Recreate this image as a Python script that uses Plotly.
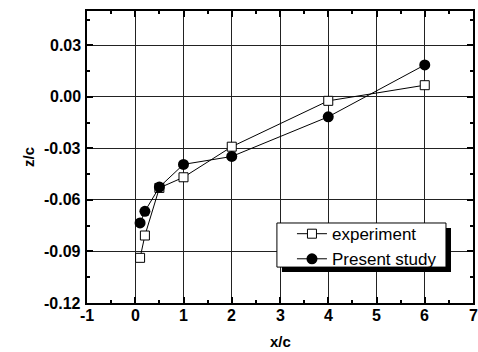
import plotly.graph_objects as go

exp_x = [0.1, 0.2, 0.5, 1, 2, 4, 6]
exp_y = [-0.0937, -0.0807, -0.053, -0.0468, -0.029, -0.0023, 0.0068]
pre_x = [0.1, 0.2, 0.5, 1, 2, 4, 6]
pre_y = [-0.0734, -0.0666, -0.0525, -0.0393, -0.0347, -0.0116, 0.0186]

x_ticks = [-1, 0, 1, 2, 3, 4, 5, 6, 7]
x_labels = ["-1", "0", "1", "2", "3", "4", "5", "6", "7"]
y_ticks = [-0.12, -0.09, -0.06, -0.03, 0.0, 0.03]
y_labels = ["-0.12", "-0.09", "-0.06", "-0.03", "0.00", "0.03"]

FONT = "Liberation Sans, Arial, sans-serif"
TICKFONT = dict(family=FONT, size=16, color="black", weight="bold")
TITLEFONT = dict(family=FONT, size=15, color="black", weight="bold")

fig = go.Figure()
fig.add_trace(go.Scatter(
    x=exp_x, y=exp_y, name="experiment", mode="lines+markers",
    line=dict(color="black", width=1),
    marker=dict(symbol="square", size=9, color="white", line=dict(color="black", width=1)),
))
fig.add_trace(go.Scatter(
    x=pre_x, y=pre_y, name="Present study", mode="lines+markers",
    line=dict(color="black", width=1),
    marker=dict(symbol="circle", size=11, color="black"),
))

axis_common = dict(
    showline=True, linecolor="black", linewidth=2, mirror="allticks",
    ticks="inside", ticklen=6, tickwidth=1.5, tickcolor="black",
    showgrid=True, gridcolor="#222", gridwidth=1, zeroline=False,
    automargin=False, showticklabels=False,
)

fig.update_xaxes(
    range=[-1, 7], tickmode="array", tickvals=x_ticks, ticktext=x_labels,
    minor=dict(ticks="inside", dtick=0.5, tick0=-1, ticklen=3, tickcolor="black", showgrid=False),
    **axis_common,
)
fig.update_yaxes(
    range=[-0.12, 0.05], tickmode="array", tickvals=y_ticks, ticktext=y_labels,
    minor=dict(ticks="inside", dtick=0.015, tick0=-0.12, ticklen=3, tickcolor="black", showgrid=False),
    **axis_common,
)

# tick labels as annotations placed against the axes
for v, t in zip(y_ticks, y_labels):
    fig.add_annotation(x=0, xref="paper", y=v, yref="y", text=t, showarrow=False,
                       xanchor="right", yanchor="middle", xshift=-4, font=TICKFONT)
for v, t in zip(x_ticks, x_labels):
    fig.add_annotation(x=v, xref="x", y=0, yref="paper", text=t, showarrow=False,
                       xanchor="center", yanchor="top", yshift=-2, font=TICKFONT)
# axis titles
fig.add_annotation(x=-0.153, xref="paper", y=0.5, yref="paper", text="z/c", textangle=-90,
                   showarrow=False, xanchor="center", yanchor="middle", font=TITLEFONT)
fig.add_annotation(x=0.5, xref="paper", y=-0.165, yref="paper", text="x/c", borderpad=0,
                   showarrow=False, xanchor="center", yanchor="bottom", font=TITLEFONT)

# legend shadow and box
fig.add_shape(type="rect", xref="paper", yref="paper",
              x0=0.505, x1=0.943, y0=0.106, y1=0.257,
              fillcolor="black", line=dict(width=0), layer="above")
fig.add_shape(type="rect", xref="paper", yref="paper",
              x0=0.492, x1=0.930, y0=0.123, y1=0.274,
              fillcolor="white", line=dict(color="black", width=1), layer="above")

fig.update_layout(
    width=478, height=352,
    margin=dict(l=87, r=5, t=11, b=49),
    paper_bgcolor="white", plot_bgcolor="white",
    showlegend=True,
    legend=dict(
        x=0.531, y=0.193, xanchor="left", yanchor="middle",
        bgcolor="rgba(0,0,0,0)", borderwidth=0,
        font=dict(family=FONT, size=17, color="black"),
        tracegroupgap=0, itemwidth=30,
    ),
)

fig.write_html("out.html")
